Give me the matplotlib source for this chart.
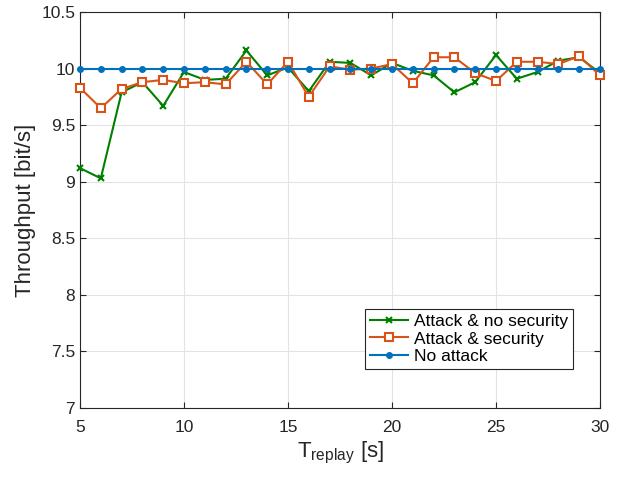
import numpy as np
import matplotlib.pyplot as plt

plt.rcParams['font.family'] = ['Liberation Sans', 'DejaVu Sans']

t_replay = list(range(5, 31))
no_security = [9.12, 9.03, 9.79, 9.88, 9.67, 9.97, 9.90, 9.91, 10.16, 9.94,
               10.01, 9.80, 10.06, 10.05, 9.94, 10.05, 9.98, 9.94, 9.79, 9.88,
               10.12, 9.91, 9.97, 10.07, 10.10, 9.96]
security = [9.83, 9.65, 9.82, 9.88, 9.90, 9.87, 9.88, 9.86, 10.06, 9.86,
            10.06, 9.75, 10.02, 9.99, 10.00, 10.04, 9.87, 10.10, 10.10, 9.96,
            9.89, 10.06, 10.06, 10.04, 10.11, 9.94]
no_attack = [10.0] * len(t_replay)

fig = plt.figure(figsize=(6.26, 4.79), dpi=100)
ax = fig.add_axes([80/626, 1 - 408/479, 520/626, 396/479])

ax.plot(t_replay, no_security, color=(0, 0.5, 0), lw=1.5, marker='x', ms=5,
        mew=1.5, label='Attack & no security', clip_on=False, zorder=3)
ax.plot(t_replay, security, color='#D95319', lw=1.5, marker='s', ms=6,
        mfc='white', mew=1.5, label='Attack & security', clip_on=False, zorder=3)
ax.plot(t_replay, no_attack, color='#0072BD', lw=1.5, marker='o', ms=4,
        label='No attack', clip_on=False, zorder=3)

ax.set_xlim(5, 30)
ax.set_ylim(7, 10.5)
ax.set_xticks([5, 10, 15, 20, 25, 30])
ax.set_yticks(np.arange(7, 10.51, 0.5))
ax.set_yticklabels(['7', '7.5', '8', '8.5', '9', '9.5', '10', '10.5'])
ax.grid(True, color='#e3e3e3', lw=0.8)
ax.set_axisbelow(True)
ax.tick_params(direction='in', labelsize=12.5, top=True, right=True, length=4,
               color='#262626', labelcolor='#262626')
ax.tick_params(axis='x', pad=9)
for s in ax.spines.values():
    s.set_color('#262626')
    s.set_linewidth(0.8)

ax.set_xlabel(r'T$_{\mathregular{replay}}$ [s]', fontsize=16, color='#262626',
              labelpad=3)
ax.set_ylabel('Throughput [bit/s]', fontsize=16, color='#262626', labelpad=4)

leg = ax.legend(loc='lower right', bbox_to_anchor=(573/626, 1 - 369/479),
                bbox_transform=fig.transFigure, fontsize=12.5, fancybox=False,
                edgecolor='#262626', framealpha=1, borderpad=0.3,
                labelspacing=0.12, handlelength=2.2, handletextpad=0.3,
                borderaxespad=0)
leg.get_frame().set_linewidth(0.8)

fig.savefig('out.png', dpi=100)
